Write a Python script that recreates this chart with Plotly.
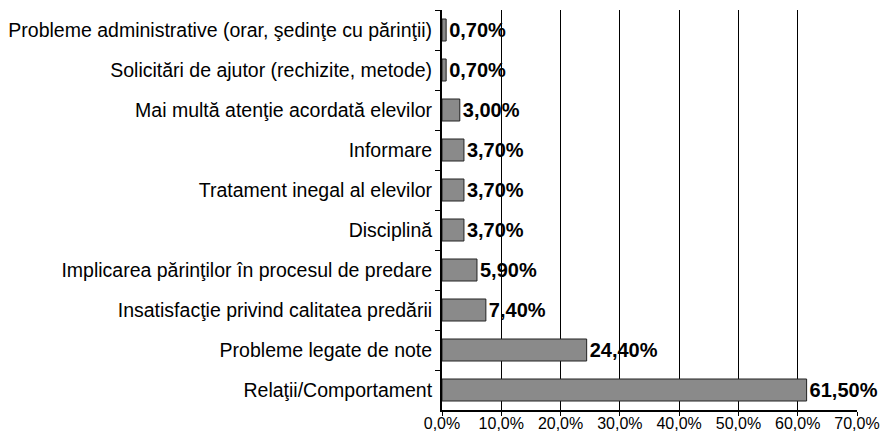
import plotly.graph_objects as go

categories = [
    "Probleme administrative (orar, şedinţe cu părinţii)",
    "Solicitări de ajutor (rechizite, metode)",
    "Mai multă atenţie acordată elevilor",
    "Informare",
    "Tratament inegal al elevilor",
    "Disciplină",
    "Implicarea părinţilor în procesul de predare",
    "Insatisfacţie privind calitatea predării",
    "Probleme legate de note",
    "Relaţii/Comportament",
]
values = [0.7, 0.7, 3.0, 3.7, 3.7, 3.7, 5.9, 7.4, 24.4, 61.5]
tick_vals = [0, 10, 20, 30, 40, 50, 60, 70]
tick_text = ["0,0%", "10,0%", "20,0%", "30,0%", "40,0%", "50,0%", "60,0%", "70,0%"]

fig = go.Figure(go.Bar(
    x=values,
    y=categories,
    orientation="h",
    width=0.55,
    marker=dict(color="#8a8a8a", line=dict(color="#222222", width=1)),
    texttemplate="%{x:.2f}%",
    textposition="outside",
    textfont=dict(family="Liberation Sans, Arial", size=20, color="black", weight="bold"),
    cliponaxis=False,
))

fig.update_layout(
    width=883, height=432,
    margin=dict(l=442, r=26, t=10, b=22, autoexpand=False),
    paper_bgcolor="white", plot_bgcolor="white",
    separators=",.",
    showlegend=False,
    font=dict(family="Liberation Sans, Arial", size=19, color="black"),
    bargap=0.45,
)
fig.update_xaxes(
    range=[0, 70],
    tickvals=tick_vals, ticktext=tick_text,
    showgrid=True, gridcolor="black", gridwidth=1,
    showline=True, linecolor="black", linewidth=2,
    ticks="outside", ticklen=4, tickcolor="black",
    ticklabelstandoff=-6,
    tickfont=dict(size=16),
    zeroline=False,
    automargin=False,
)
fig.update_yaxes(
    autorange="reversed",
    showline=True, linecolor="black", linewidth=2,
    ticks="outside", ticklen=5, tickcolor="black",
    tickson="boundaries",
    ticklabelstandoff=4,
    tickfont=dict(size=19.5),
    showgrid=False,
    automargin=False,
)

fig.write_html(
    "out.html",
    config={"displayModeBar": False},
    post_script="document.body.style.margin='0';document.body.style.overflow='hidden';",
)
